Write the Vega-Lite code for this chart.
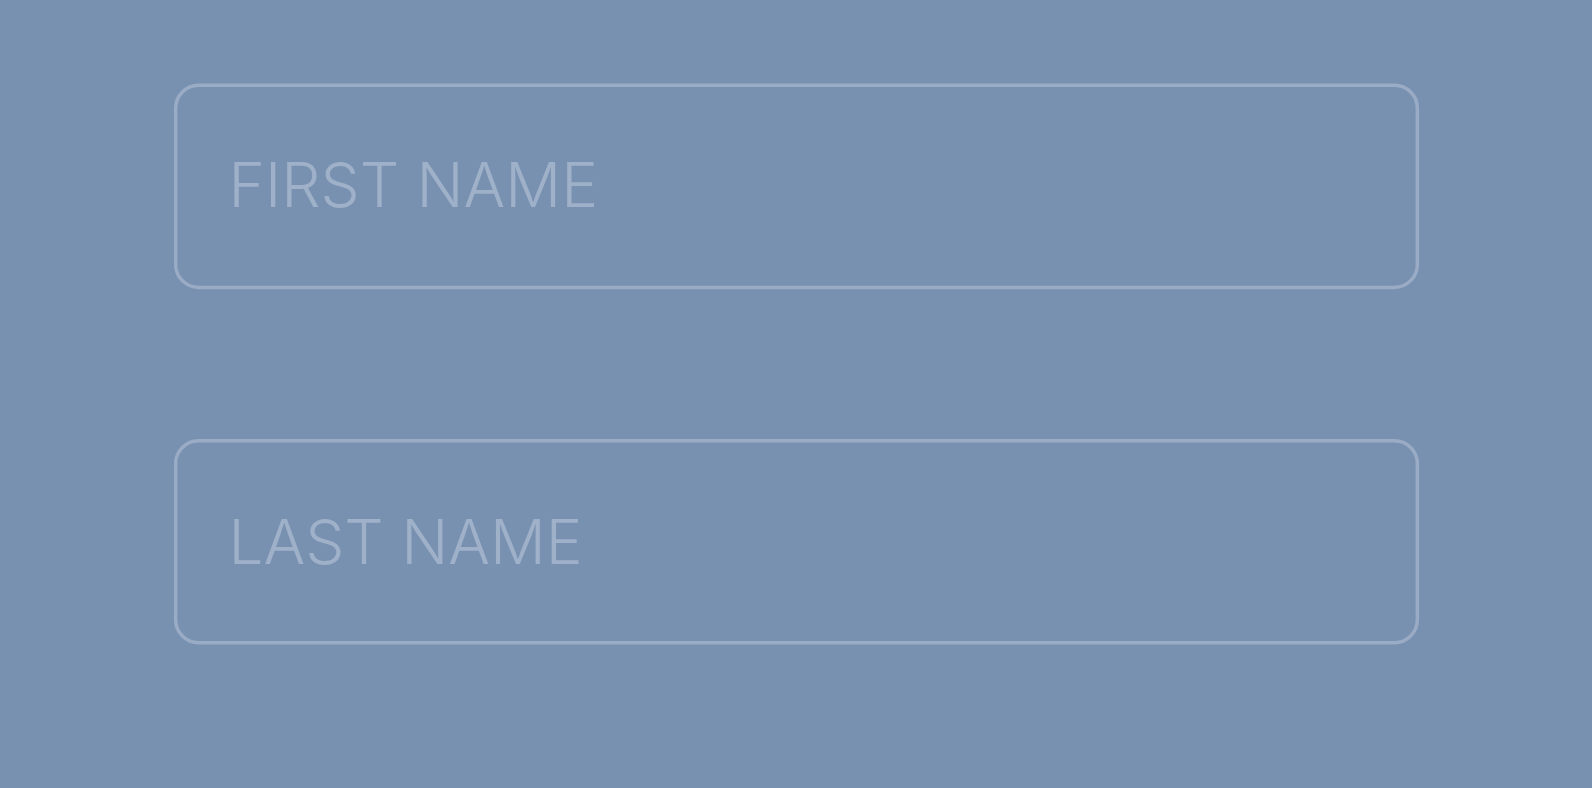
{
  "$schema": "https://vega.github.io/schema/vega-lite/v6.json",
  "autosize": {"type": "fit", "contains": "padding"},
  "width": 1592,
  "height": 788,
  "padding": 0,
  "background": "#7891b0",
  "config": {"view": {"stroke": null}},
  "data": {"values": [
    {"label": "FIRST NAME", "x0": 173, "x1": 1396, "y0": 84, "y1": 283, "tx": 225, "ty": 204},
    {"label": "LAST NAME", "x0": 173, "x1": 1396, "y0": 434, "y1": 633, "tx": 225, "ty": 555}
  ]},
  "layer": [
    {
      "mark": {"type": "rect", "fill": null, "stroke": "#9aabc5", "strokeWidth": 3.5, "cornerRadius": 23},
      "encoding": {
        "x": {"field": "x0", "type": "quantitative", "scale": {"domain": [0, 1568]}, "axis": null},
        "x2": {"field": "x1"},
        "y": {"field": "y0", "type": "quantitative", "scale": {"domain": [0, 776], "reverse": true}, "axis": null},
        "y2": {"field": "y1"}
      }
    },
    {
      "mark": {"type": "text", "align": "left", "baseline": "alphabetic", "font": "Inter", "fontSize": 62, "fontWeight": 300, "letterSpacing": 4.5, "color": "#9fb0c9"},
      "encoding": {
        "x": {"field": "tx", "type": "quantitative", "scale": {"domain": [0, 1568]}, "axis": null},
        "y": {"field": "ty", "type": "quantitative", "scale": {"domain": [0, 776], "reverse": true}, "axis": null},
        "text": {"field": "label"}
      }
    }
  ]
}
